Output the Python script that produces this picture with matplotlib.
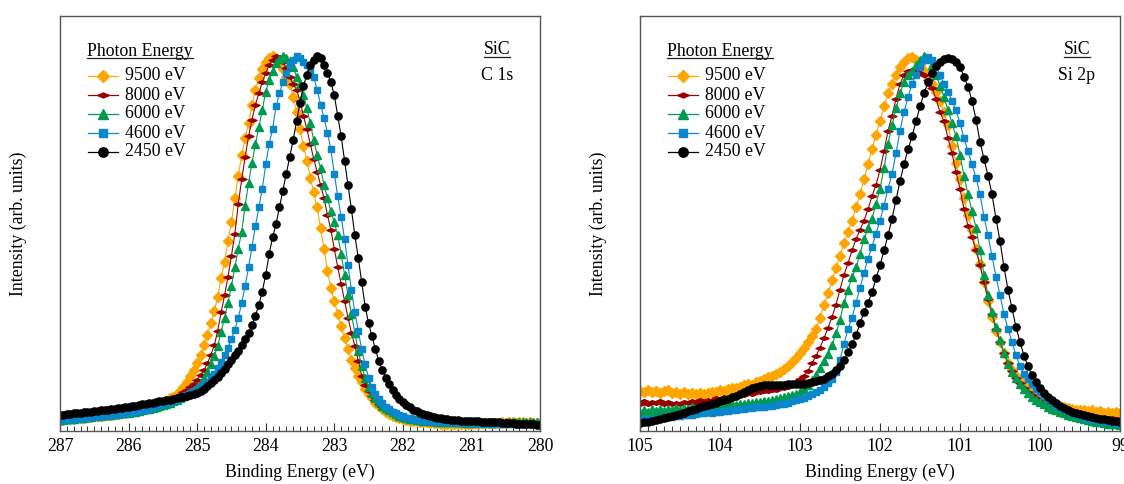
import numpy as np
import matplotlib
matplotlib.use("Agg")
import matplotlib.pyplot as plt
from matplotlib.path import Path
from matplotlib.lines import Line2D

plt.rcParams['font.family'] = ['Liberation Serif', 'DejaVu Serif']

# photon energies (legend) and styles
photon_labels = ['9500 eV', '8000 eV', '6000 eV', '4600 eV', '2450 eV']

# ---- C 1s : binding energy grid 287 -> 280 eV, 0.05 eV step (141 points) ----
c1s_energy = np.linspace(287.0, 280.0, 141)

c1s_9500 = [2.6, 2.7, 2.8, 2.9, 3.0, 3.1, 3.2, 3.3, 3.4, 3.5, 3.6, 3.7, 3.8, 3.9, 4.0, 4.1, 4.2, 4.3, 4.4, 4.6,
            4.7, 4.9, 5.1, 5.3, 5.5, 5.7, 5.9,
            6.2, 6.5, 6.9, 7.3, 7.8, 8.4, 8.9, 9.6, 10.4, 11.6, 12.9, 14.4, 16.0, 17.8,
            20.0, 22.8, 25.5, 28.5, 31.8, 35.6, 40.5, 45, 50.5, 55.5, 62, 68, 73.5, 78, 82, 87, 91,
            94, 96.5, 98.3, 99.6, 100, 99.3, 98, 96.5, 94.5, 92.5, 89, 85, 80.5, 76, 72, 67.5, 63.5, 59.5,
            54, 48.5, 42.5, 38, 34.5, 31, 27.8, 24.5, 21.5, 18.8, 16.5,
            14.5, 12.7, 11, 9.6, 8.4, 7.3, 6.4, 5.6, 4.9, 4.3, 3.8, 3.4, 3.1, 2.9, 2.7, 2.5, 2.4, 2.3, 2.2, 2.1,
            2.0, 1.9, 1.8, 1.8, 1.7, 1.7, 1.6, 1.6,
            1.6, 1.6, 1.7, 1.6, 1.7, 1.7, 1.8, 1.7, 1.8, 1.8, 1.9, 1.8, 1.9, 1.9, 2.0, 1.9, 2.0, 2.0, 1.9, 2.0,
            2.0, 1.9, 2.0, 1.9, 1.9, 1.8]
c1s_8000 = [2.7, 2.8, 2.9, 3.0, 3.1, 3.2, 3.3, 3.4, 3.5, 3.6, 3.7, 3.8, 3.9, 4.0, 4.1, 4.2, 4.3, 4.4, 4.5, 4.7,
            4.8, 5.0, 5.2, 5.4, 5.6, 5.8, 6.0,
            6.2, 6.5, 6.8, 7.1, 7.5, 7.9, 8.3, 8.8, 9.4, 10.0, 10.7, 11.5, 12.4, 13.4,
            14.6, 16.0, 17.8, 20.0, 22.6, 26.5, 31.5, 36, 41, 46.5, 52.5, 60.5, 67, 73, 78.5, 83, 87,
            90, 93, 95.5, 97.5, 99, 100, 99.7, 98.5, 96.8, 94.5, 92.5, 91, 88, 84, 80.5, 76.5, 72.5, 69,
            65.5, 62, 57.5, 53.5, 48.5, 43.5, 39, 34.5, 30, 26, 22.5,
            18.5, 14.5, 12, 10.3, 9, 7.9, 7.0, 6.2, 5.5, 4.9, 4.4, 4.0, 3.6, 3.3, 3.1, 2.9, 2.7, 2.6, 2.5, 2.4,
            2.3, 2.2, 2.1, 2.1, 2.0, 2.0, 1.9, 1.9,
            1.9, 1.9, 1.8, 1.8, 1.8, 1.8, 1.8, 1.8, 1.8, 1.8, 1.8, 1.8, 1.7, 1.7, 1.7, 1.7, 1.7, 1.7, 1.7, 1.7,
            1.6, 1.6, 1.6, 1.6, 1.6, 1.5]
c1s_6000 = [2.6, 2.7, 2.8, 2.9, 3.0, 3.1, 3.2, 3.3, 3.4, 3.5, 3.6, 3.7, 3.8, 3.9, 4.0, 4.1, 4.2, 4.3, 4.4, 4.5,
            4.6, 4.8, 4.9, 5.1, 5.3, 5.5, 5.7,
            5.9, 6.1, 6.4, 6.7, 7.0, 7.3, 7.7, 8.1, 8.5, 9.0, 9.5, 10.1, 10.8, 11.5,
            12.6, 14.0, 15.6, 17.5, 19.8, 22.5, 26.2, 30, 34, 38.5, 43.5, 48.5, 53, 60, 66, 71.5, 76.5,
            81, 85.5, 90.5, 93.5, 96, 98, 99.3, 100, 99.6, 98.5, 97, 94.5, 92.5, 89.5, 86, 82, 77.5, 73.5,
            70, 65.5, 62, 58.5, 55.5, 52, 47, 41.5, 36, 31, 26,
            21, 17, 13.8, 11.5, 9.8, 8.5, 7.4, 6.5, 5.8, 5.2, 4.7, 4.2, 3.8, 3.5, 3.2, 3.0, 2.8, 2.7, 2.6, 2.5,
            2.4, 2.3, 2.3, 2.2, 2.2, 2.1, 2.1, 2.0,
            2.0, 2.0, 2.0, 1.9, 2.0, 1.9, 1.9, 2.0, 1.9, 1.9, 2.0, 1.9, 2.0, 2.0, 1.9, 2.0, 2.1, 2.0, 2.0, 2.1,
            2.0, 2.0, 2.1, 2.0, 2.0, 1.9]
c1s_4600 = [2.5, 2.6, 2.7, 2.8, 2.9, 3.0, 3.1, 3.2, 3.3, 3.4, 3.5, 3.6, 3.7, 3.8, 3.9, 4.0, 4.1, 4.2, 4.3, 4.4,
            4.5, 4.7, 4.8, 5.0, 5.2, 5.4, 5.6,
            6.0, 6.3, 6.6, 6.9, 7.2, 7.5, 7.8, 8.1, 8.5, 8.9, 9.3, 9.8, 10.3, 10.8,
            11.4, 12.1, 12.9, 13.8, 15, 16.5, 18.2, 20, 22, 24.3, 26.8, 30, 34, 38.5, 43.5, 49, 54.5,
            59.5, 64.5, 71, 76.5, 80.5, 86.5, 90, 93, 95.5, 97.5, 99, 100, 99.5, 98.5, 97.5, 96, 94.5, 91,
            87, 83.5, 79.5, 75, 68.5, 62.5, 57, 51, 44, 37.5, 31.5,
            26.5, 21.5, 17.5, 14, 11.5, 9.6, 8.2, 7.1, 6.2, 5.5, 4.9, 4.4, 4.0, 3.6, 3.3, 3.1, 2.9, 2.7, 2.6, 2.5,
            2.4, 2.3, 2.2, 2.2, 2.1, 2.1, 2.0, 2.0,
            2.0, 1.9, 1.9, 1.9, 1.9, 1.8, 1.8, 1.8, 1.8, 1.8, 1.7, 1.7, 1.7, 1.7, 1.7, 1.7, 1.6, 1.6, 1.6, 1.6,
            1.6, 1.5, 1.5, 1.5, 1.5, 1.4]
c1s_2450 = [4.0, 4.1, 4.2, 4.3, 4.4, 4.5, 4.6, 4.7, 4.8, 4.9, 5.0, 5.1, 5.2, 5.3, 5.4, 5.6, 5.7, 5.8, 5.9, 6.0,
            6.2, 6.3, 6.5, 6.6, 6.8, 7.0, 7.2,
            7.3, 7.5, 7.6, 7.8, 8.0, 8.1, 8.3, 8.5, 8.7, 8.9, 9.1, 9.3, 9.5, 9.8,
            10.4, 11.0, 11.7, 12.5, 13.3, 14.2, 15.2, 16.3, 17.5, 18.7, 19.9, 21.2, 22.6, 24.2, 26.0, 28.0, 30.5,
            33.5, 37, 41.5, 47, 51.5, 55, 59.5, 64, 68.5, 73, 77.5, 82.5, 87.5, 92, 95, 97.5, 99, 100,
            99.5, 97.5, 95.5, 93, 89.5, 84, 78.5, 72, 65.5, 59, 52,
            46, 39.5, 33, 28.5, 25, 21.5, 18.5, 16, 14, 12.2, 10.7, 9.4, 8.3, 7.4, 6.6, 6.0, 5.4, 5.0, 4.6, 4.3,
            4.0, 3.7, 3.5, 3.3, 3.1, 3.0, 2.8, 2.7,
            2.6, 2.6, 2.5, 2.5, 2.4, 2.4, 2.3, 2.3, 2.2, 2.2, 2.1, 2.1, 2.0, 2.0, 1.9, 1.9, 1.8, 1.8, 1.7, 1.7,
            1.6, 1.6, 1.5, 1.5, 1.4, 1.3]

# ---- Si 2p : binding energy grid 105 -> 99 eV, 0.05 eV step (121 points) ----
si2p_energy = np.linspace(105.0, 99.0, 121)

si2p_9500 = [10.4, 10.0, 10.6, 10.2, 10.5, 9.9, 10.3, 10.6, 9.8, 10.1, 9.6, 10.0, 9.5, 9.9, 9.6, 9.8, 9.5, 9.9,
             10.0, 10.2, 10.6, 10.4, 10.9, 11.3, 11.1, 11.6, 12.0, 12.3, 12.1, 12.7, 13.2, 13.6, 14.1, 14.5,
             15.0, 15.6, 16.3, 17.2, 18.2, 19.3, 20.6,
             22.0, 23.4, 25.0, 27.0, 30.0, 33.5, 36.5, 40.0, 43.3, 46.5, 50.0, 53.0, 56.0, 59.5, 63.0, 67.0,
             71.0, 75.0, 79.0, 82.5,
             86.5, 90, 92.5, 95, 97, 98.5, 99.5, 99.8, 99, 97.5, 96, 94.5, 92.5, 90.5, 88, 85, 81.5, 76, 71.5, 67,
             62, 57.5, 53.5, 48.5, 44.5, 39.5, 34.5, 30.3, 26.5, 23.5, 20.5, 18, 16, 14.5, 13.5, 12.3, 11.2,
             10.3, 9.5, 8.8,
             7.9, 7.4, 7.0, 6.6, 6.3, 6.0, 5.8, 5.5, 5.4, 5.2, 5.3, 5.0, 5.2, 4.8, 5.0, 4.6, 4.9, 4.5, 4.7, 4.4]
si2p_8000 = [7.0, 7.6, 6.9, 7.5, 7.1, 7.7, 7.0, 7.4, 6.8, 7.3, 6.9, 7.5, 7.2, 7.8, 7.3, 7.9, 7.5, 8.1, 7.8, 8.4,
             8.2, 8.7, 8.5, 9.1, 9.0, 9.5, 9.4, 9.8, 9.7, 10.1, 10.0, 10.4, 10.3, 10.8, 10.7, 11.1, 11.2, 11.6,
             12.0, 12.8, 13.6,
             14.5, 15.8, 17.8, 19.8, 22, 24.5, 27.3, 30.2, 33.5, 37.5, 41.5, 44.6, 48, 51, 53.5, 56, 59, 62.5,
             65.5, 69.5,
             74.5, 80, 84, 88.5, 92.5, 95, 96, 96.3, 96, 95.5, 94.8, 93.5, 91.5, 88.5, 85, 82.5, 78, 74, 69, 64.5,
             59, 54.5, 51.5, 48, 44, 39.5, 35, 31, 27, 23.5, 20.5, 18, 15.8, 14, 12.5, 11.2, 10.2, 9.3, 8.5, 7.8,
             7.2, 6.7, 6.2, 5.8, 5.4, 5.1, 4.8, 4.6, 4.4, 4.2, 4.0, 3.8, 3.7, 3.5, 3.4, 3.3, 3.2, 3.1, 3.0, 2.9]
si2p_6000 = [4.6, 5.4, 4.8, 5.6, 5.0, 5.5, 5.1, 5.7, 5.2, 5.8, 5.3, 5.9, 5.5, 6.0, 5.6, 6.1, 5.8, 6.2, 6.0, 6.4,
             6.2, 6.6, 6.4, 6.8, 6.7, 7.0, 6.9, 7.2, 7.2, 7.5, 7.5, 7.8, 7.8, 8.1, 8.2, 8.5, 8.7, 9.0, 9.3, 9.7,
             10.2,
             11.0, 12.0, 13.3, 14.8, 16.5, 18.3, 20.3, 22.8, 25.8, 29.5, 34, 37.5, 40.8, 43.5, 47, 51, 54, 56.5,
             60.5, 64.5,
             70, 76.5, 81.5, 86, 90, 93, 94.8, 96, 97.5, 99, 100, 99.2, 97.5, 95, 92, 89, 85.6, 82, 78.5, 73.5,
             68, 63, 58.5, 54, 48, 41.5, 36, 31.5, 27.5, 24, 20.5, 17.5, 15.5, 13.8, 12.2, 10.9, 9.8, 8.9, 8.1, 7.4,
             6.8, 6.2, 5.7, 5.2, 4.8, 4.4, 4.0, 3.7, 3.4, 3.1, 2.8, 2.6, 2.4, 2.2, 2.0, 1.9, 1.7, 1.6, 1.5, 1.4]
si2p_4600 = [2.4, 2.8, 2.6, 3.0, 2.9, 3.2, 3.1, 3.4, 3.4, 3.7, 3.6, 3.9, 4.0, 4.1, 4.2, 4.4, 4.4, 4.7, 4.6, 4.9,
             4.9, 5.1, 5.1, 5.3, 5.4, 5.5, 5.6, 5.8, 5.8, 6.0, 6.1, 6.2, 6.4, 6.5, 6.6, 6.8, 7.0, 7.3, 7.6, 7.9,
             8.2,
             8.6, 9.0, 9.5, 10.1, 10.8, 11.6, 12.5, 13.5, 15.5, 18.8, 23, 27, 30, 34, 38, 42, 45.8, 49, 52.5, 56,
             60, 64.5, 68.5, 74, 80, 85, 89, 92.5, 95, 97, 98.8, 99.7, 99, 97.5, 95, 92.5, 90.5, 88, 85.5, 82,
             78, 74.5, 71, 67.5, 63, 57, 52, 46.5, 41, 36, 31, 27, 23.5, 20, 17, 15, 13.5, 12.2, 11, 10,
             9.0, 8.2, 7.4, 6.7, 6.1, 5.5, 5.0, 4.6, 4.2, 3.8, 3.5, 3.2, 2.9, 2.7, 2.5, 2.3, 2.1, 2.0, 1.9, 1.8]
si2p_2450 = [1.8, 2.0, 2.2, 2.4, 2.6, 2.8, 3.1, 3.4, 3.7, 4.0, 4.3, 4.6, 5.0, 5.3, 5.6, 6.0, 6.3, 6.6, 6.9, 7.2,
             7.6, 7.9, 8.3, 8.7, 9.1, 9.6, 10.1, 10.6, 11.1, 11.5, 11.8, 11.9, 12.0, 12.0, 12.0, 12.1, 12.1, 12.2,
             12.2, 12.3, 12.3,
             12.4, 12.6, 12.8, 13.0, 13.3, 13.7, 14.3, 15.0, 15.9, 17.0, 18.6, 20.7, 23.0, 25.3, 28.5, 31.5, 34,
             36.8, 40.5, 44,
             48, 52, 56.5, 61.5, 66.5, 71, 75, 78.5, 82.5, 86.5, 90, 93, 95.5, 97.3, 98.5, 99.3, 99.5, 99.2, 98.3, 97,
             94.5, 91.8, 88, 83, 77, 72.5, 68, 63, 56.5, 50.5, 43.5, 37.5, 32.5, 27.5, 23.5, 19.8, 17, 14.7, 12.8,
             11.2,
             9.9, 8.8, 7.9, 7.1, 6.4, 5.8, 5.3, 4.9, 4.5, 4.2, 3.9, 3.6, 3.4, 3.2, 3.0, 2.8, 2.6, 2.5, 2.3, 2.2]

c1s_series = [c1s_9500, c1s_8000, c1s_6000, c1s_4600, c1s_2450]
si2p_series = [si2p_9500, si2p_8000, si2p_6000, si2p_4600, si2p_2450]

# flat (wide) diamond for the 8000 eV data
flat_diamond = Path([(-1, 0), (0, 0.42), (1, 0), (0, -0.42), (-1, 0)],
                    [Path.MOVETO, Path.LINETO, Path.LINETO, Path.LINETO, Path.CLOSEPOLY])

styles = [
    dict(color='#FFA500', marker='D', ms=4.8),
    dict(color='#990000', marker=flat_diamond, ms=6.5),
    dict(color='#009A4E', marker='^', ms=5.6),
    dict(color='#0A86CC', marker='s', ms=4.7),
    dict(color='#000000', marker='o', ms=5.2),
]

FS = 12.8
AX_W, AX_H = 480.0, 415.0   # axes size in pixels


def underline(fig, text, pad=1.5):
    # draw a line just below a text object (matplotlib has no underline)
    fig.canvas.draw()
    bb = text.get_window_extent()
    inv = fig.transFigure.inverted()
    (x0, y0), (x1, _) = inv.transform([(bb.x0, bb.y0 + pad), (bb.x1, bb.y0 + pad)])
    fig.add_artist(Line2D([x0, x1], [y0, y0], transform=fig.transFigure, color='#222222', lw=0.9))


def drawLegend(ax):
    # hand-made legend so the row spacing matches the original
    title = ax.text(27 / AX_W, 1 - 35 / AX_H, 'Photon Energy', transform=ax.transAxes,
                    ha='left', va='center', fontsize=FS)
    for i, (label, st) in enumerate(zip(photon_labels, styles)):
        y = 1 - (60 + 19 * i) / AX_H
        ax.plot([28 / AX_W, 58 / AX_W], [y, y], transform=ax.transAxes, clip_on=False,
                color=st['color'], lw=0.9)
        ax.plot([43 / AX_W], [y], transform=ax.transAxes, clip_on=False, color=st['color'],
                marker=st['marker'], ms=st['ms'] * 1.3, mec=st['color'], mfc=st['color'])
        ax.text(65 / AX_W, y, label, transform=ax.transAxes, ha='left', va='center', fontsize=FS)
    return title


def makePanel(ax, energy, series, xlim, core_level):
    for values, label, st in zip(series, photon_labels, styles):
        assert len(values) == len(energy)
        ax.plot(energy, values, color=st['color'], marker=st['marker'], ms=st['ms'],
                mec=st['color'], mfc=st['color'], lw=0.8, label=label)
    ax.set_xlim(*xlim)
    ax.set_ylim(-0.3, 110.7)
    ax.set_xticks(np.arange(min(xlim), max(xlim) + 1, 1))
    ax.xaxis.set_major_formatter(plt.FuncFormatter(lambda v, p: '%d' % round(v)))
    ax.set_xticks(np.arange(min(xlim), max(xlim) + 0.001, 0.1), minor=True)
    ax.set_yticks([])
    ax.tick_params(axis='x', which='major', direction='in', length=6, width=0.8,
                   labelsize=FS, pad=5, color='#333333')
    ax.tick_params(axis='x', which='minor', direction='in', length=3.5, width=0.7, color='#333333')
    for s in ax.spines.values():
        s.set_color('#555555')
        s.set_linewidth(1.0)
    ax.set_xlabel('Binding Energy (eV)', fontsize=FS)
    ax.xaxis.set_label_coords(0.5, -41 / AX_H)
    ax.xaxis.label.set_verticalalignment('center')
    ax.set_ylabel('Intensity (arb. units)', fontsize=FS)
    ax.yaxis.set_label_coords(-42 / AX_W, 0.5)
    ax.yaxis.label.set_verticalalignment('center')
    title = drawLegend(ax)
    sic = ax.text(437 / AX_W, 1 - 34 / AX_H, 'SiC', transform=ax.transAxes,
                  ha='center', va='center', fontsize=FS)
    ax.text(437 / AX_W, 1 - 59 / AX_H, core_level, transform=ax.transAxes,
            ha='center', va='center', fontsize=FS)
    return title, sic


fig = plt.figure(figsize=(11.24, 4.84), dpi=100)
ax1 = fig.add_axes([60 / 1124, 53 / 484, AX_W / 1124, AX_H / 484])
ax2 = fig.add_axes([640 / 1124, 53 / 484, AX_W / 1124, AX_H / 484])

title1, sic1 = makePanel(ax1, c1s_energy, c1s_series, (287, 280), 'C 1s')
title2, sic2 = makePanel(ax2, si2p_energy, si2p_series, (105, 99), 'Si 2p')

for t in [title1, title2, sic1, sic2]:
    underline(fig, t)

fig.savefig('out.png', dpi=100)
